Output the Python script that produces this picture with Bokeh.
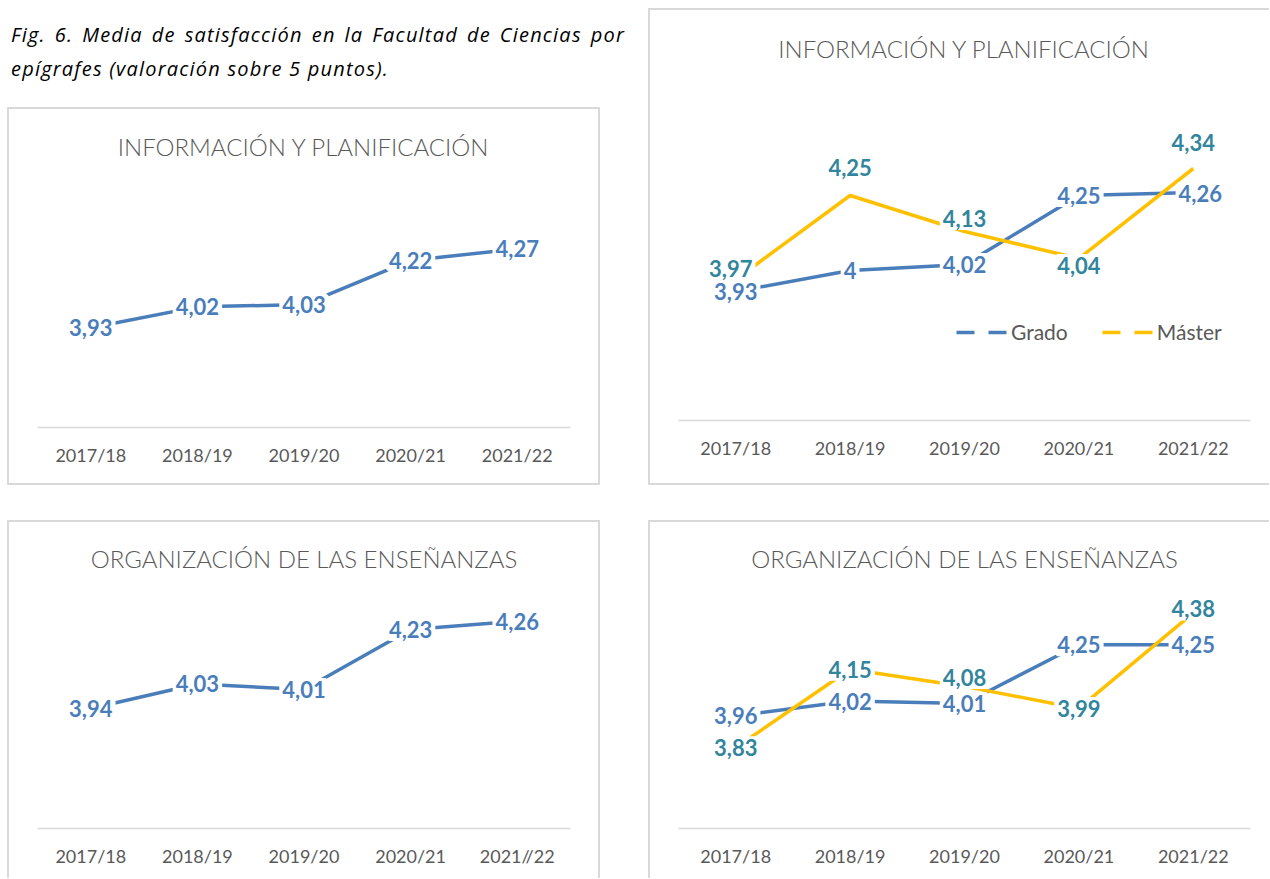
from bokeh.plotting import figure
from bokeh.models import (ColumnDataSource, LabelSet, FactorRange, Range1d,
                          Legend, LegendItem, Div, Spacer)
from bokeh.layouts import row, column
from bokeh.core.properties import value
from bokeh.embed import file_html
from bokeh.resources import INLINE

# ---------------- data ----------------
years = ["2017/18", "2018/19", "2019/20", "2020/21", "2021/22"]
years_org_left = ["2017/18", "2018/19", "2019/20", "2020/21", "2021//22"]

info_total = [3.93, 4.02, 4.03, 4.22, 4.27]
org_total = [3.94, 4.03, 4.01, 4.23, 4.26]
info_grado = [3.93, 4.00, 4.02, 4.25, 4.26]
info_master = [3.97, 4.25, 4.13, 4.04, 4.34]
org_grado = [3.96, 4.02, 4.01, 4.25, 4.25]
org_master = [3.83, 4.15, 4.08, 3.99, 4.38]

title_info = "INFORMACIÓN Y PLANIFICACIÓN"
title_org = "ORGANIZACIÓN DE LAS ENSEÑANZAS"
caption_line1 = "Fig. 6. Media de satisfacción en la Facultad de Ciencias por"
caption_line2 = "epígrafes (valoración sobre 5 puntos)."
series_names = ["Grado", "Máster"]
y_min = 3.5

# ---------------- styles ----------------
BLUE = "#4A7EBB"
GOLD = "#FFC000"
TEAL = "#31859C"
GREY = "#595959"
BORDER = "#D9D9D9"
FONT = "Lato"
TITLE_FONT = "Lato Light, Lato"
TITLE_PX = 24
TITLE_H = TITLE_PX * 1.2

# label offsets (pixels) for the two-series charts
info_grado_dx = [0, 0, 0, 0, 7]
info_grado_dy = [0, 0, 0, 0, -1]
info_master_dx = [-5, 0, 0, 0, 0]
info_master_dy = [11, 28, 13, -7, 26]
zero5 = [0, 0, 0, 0, 0]
org_master_dy = [0, 0, 9, 0, 4]


def fmt(v):
    s = f"{v:.2f}".rstrip("0").rstrip(".")
    return s.replace(".", ",")


def make_panel(w, h, cats, title, px_per_unit, mb_left, mb_right, mb_bottom, title_center, shadow):
    standoff = 2 * (title_center - 2 - TITLE_H / 2)
    top_border = 2 + TITLE_H + standoff
    frame_h = h - top_border - mb_bottom
    ymax = y_min + frame_h / px_per_unit
    p = figure(width=w, height=h, x_range=FactorRange(*cats), y_range=Range1d(y_min, ymax),
               output_backend="svg", toolbar_location=None,
               min_border_left=mb_left, min_border_right=mb_right,
               min_border_top=5, min_border_bottom=mb_bottom,
               styles={"box-shadow": shadow})
    p.border_fill_color = None
    p.background_fill_color = None
    p.title.text = title
    p.title.align = "center"
    p.title.text_font = TITLE_FONT
    p.title.text_font_size = f"{TITLE_PX}px"
    p.title.text_font_style = "normal"
    p.title.text_color = GREY
    p.title.standoff = standoff
    p.yaxis.visible = False
    p.grid.visible = False
    p.outline_line_color = None
    p.xaxis.axis_line_color = BORDER
    p.xaxis.axis_line_width = 1.5
    p.xaxis.major_tick_line_color = None
    p.xaxis.minor_tick_line_color = None
    p.xaxis.major_label_text_font = FONT
    p.xaxis.major_label_text_font_size = "18px"
    p.xaxis.major_label_text_color = GREY
    p.xaxis.major_label_standoff = 10
    return p


def add_series(p, cats, vals, line_color, dx, dy):
    src = ColumnDataSource(dict(x=cats, y=vals, label=[fmt(v) for v in vals], dx=dx, dy=dy))
    p.line("x", "y", source=src, line_color=line_color, line_width=3.5)
    return src


def add_labels(p, src, text_color):
    p.add_layout(LabelSet(x="x", y="y", text="label", source=src,
                          x_offset="dx", y_offset="dy",
                          text_align="center", text_baseline="middle",
                          text_font=value(FONT), text_font_style="bold",
                          text_font_size="22px", text_color=text_color,
                          background_fill_color="white",
                          border_line_color="white", border_line_width=6))


B = BORDER
# ---- top-left ----
p_tl = make_panel(593, 378, years, title_info, 232, 30, 30, 58, 39,
                  f"inset 2px 2px 0 0 {B}, inset -2px -2px 0 0 {B}")
s = add_series(p_tl, years, info_total, BLUE, zero5, zero5)
add_labels(p_tl, s, BLUE)

# ---- bottom-left ----
p_bl = make_panel(593, 358, years_org_left, title_org, 275, 30, 30, 48, 38,
                  f"inset 2px 2px 0 0 {B}, inset -2px 0 0 0 {B}")
s = add_series(p_bl, years_org_left, org_total, BLUE, zero5, zero5)
add_labels(p_bl, s, BLUE)

# ---- top-right ----
p_tr = make_panel(621, 477, years, title_info, 300, 30, 19, 65, 40,
                  f"inset 2px 2px 0 0 {B}, inset 0 -2px 0 0 {B}")
sg = add_series(p_tr, years, info_grado, BLUE, info_grado_dx, info_grado_dy)
sm = add_series(p_tr, years, info_master, GOLD, info_master_dx, info_master_dy)
add_labels(p_tr, sg, BLUE)
add_labels(p_tr, sm, TEAL)
nan5 = [float("nan")] * 5
lg_g = p_tr.line(x=years, y=nan5, line_color=BLUE, line_width=3.5, line_dash="18 14")
lg_m = p_tr.line(x=years, y=nan5, line_color=GOLD, line_width=3.5, line_dash="18 14")
legend = Legend(items=[LegendItem(label=series_names[0], renderers=[lg_g]),
                       LegendItem(label=series_names[1], renderers=[lg_m])],
                location=(278, 76), orientation="horizontal",
                border_line_color=None, background_fill_alpha=0,
                label_text_font=FONT, label_text_font_size="21px", label_text_color=GREY,
                glyph_width=51, glyph_height=20, spacing=34, padding=0, margin=0,
                label_standoff=4)
p_tr.add_layout(legend)

# ---- bottom-right ----
p_br = make_panel(621, 358, years, title_org, 245, 30, 19, 50, 38,
                  f"inset 2px 2px 0 0 {B}")
sg = add_series(p_br, years, org_grado, BLUE, zero5, zero5)
sm = add_series(p_br, years, org_master, GOLD, zero5, org_master_dy)
add_labels(p_br, sg, BLUE)
add_labels(p_br, sm, TEAL)

# ---- caption ----
caption = Div(width=618, height=107, margin=0, text=(
    '<div style="font-family:\'Open Sans\';font-style:italic;font-size:20px;color:#000;'
    'letter-spacing:1.2px;line-height:34px;padding-top:18px;width:614px;margin-left:4px">'
    f'<div style="text-align:justify;text-align-last:justify">{caption_line1}</div>'
    f'<div>{caption_line2}</div></div>'))

top_row = row(Spacer(width=7, height=10),
              column(caption, p_tl),
              Spacer(width=23, height=10),
              column(Spacer(width=10, height=8), p_tr))
bottom_row = row(Spacer(width=7, height=10), p_bl, Spacer(width=48, height=10), p_br)
root = column(top_row, Spacer(width=10, height=35), bottom_row)

open("out.html", "w").write(file_html(root, INLINE))
